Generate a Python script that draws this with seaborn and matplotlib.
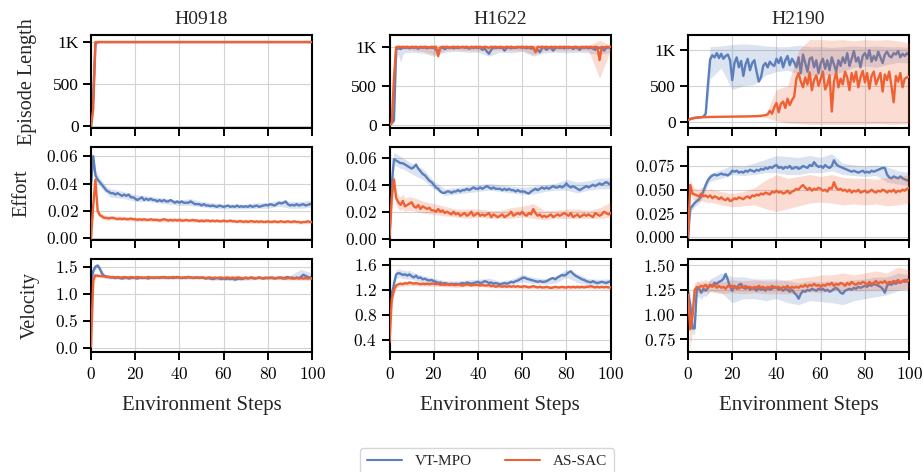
import matplotlib
matplotlib.use("Agg")
import matplotlib.pyplot as plt
import seaborn as sns
import pandas as pd
from matplotlib.lines import Line2D

# ---------------- data ----------------
ENVS = ["H0918", "H1622", "H2190"]
METRICS = ["Episode Length", "Effort", "Velocity"]
ALGOS = ["VT-MPO", "AS-SAC"]
STEPS = list(range(101))
BAND_STEPS = [0, 1, 2, 3, 4, 5, 6, 7, 8, 9, 10, 15, 20, 25, 30, 35, 40, 45, 50,
              55, 60, 65, 70, 75, 80, 85, 90, 95, 100]

# ---- H0918 ----
ep_h0918_vt = [0, 350, 985, 1000, 1000, 1000, 1000, 1000, 1000, 1000,
               1000, 1000, 1000, 1000, 1000, 1000, 1000, 1000, 1000, 1000,
               1000, 1000, 1000, 1000, 1000, 1000, 1000, 1000, 1000, 1000,
               1000, 1000, 1000, 1000, 1000, 1000, 1000, 1000, 1000, 1000,
               1000, 1000, 1000, 1000, 1000, 1000, 1000, 1000, 1000, 1000,
               1000, 1000, 1000, 1000, 1000, 1000, 1000, 1000, 1000, 1000,
               1000, 1000, 1000, 1000, 1000, 1000, 1000, 1000, 1000, 1000,
               1000, 1000, 1000, 1000, 1000, 1000, 1000, 1000, 1000, 1000,
               1000, 1000, 1000, 1000, 1000, 1000, 1000, 1000, 1000, 1000,
               1000, 1000, 1000, 1000, 1000, 1000, 1000, 1000, 1000, 1000,
               1000]
ep_h0918_vt_lo = [0, 200, 940, 990, 995, 995, 995, 995, 995, 995, 995,
                  995, 995, 995, 995, 995, 995, 995, 995, 995, 995, 995, 995, 995, 995, 995, 995, 995, 995]
ep_h0918_vt_hi = [30, 500, 1005, 1005, 1005, 1005, 1005, 1005, 1005, 1005, 1005,
                  1005, 1005, 1005, 1005, 1005, 1005, 1005, 1005, 1005, 1005, 1005, 1005, 1005, 1005, 1005, 1005, 1005, 1005]
ep_h0918_as = [0, 200, 1000, 1000, 1000, 1000, 1000, 1000, 1000, 1000,
               1000, 1000, 1000, 1000, 1000, 1000, 1000, 1000, 1000, 1000,
               1000, 1000, 1000, 1000, 1000, 1000, 1000, 1000, 1000, 1000,
               1000, 1000, 1000, 1000, 1000, 1000, 1000, 1000, 1000, 1000,
               1000, 1000, 1000, 1000, 1000, 1000, 1000, 1000, 1000, 1000,
               1000, 1000, 1000, 1000, 1000, 1000, 1000, 1000, 1000, 1000,
               1000, 1000, 1000, 1000, 1000, 1000, 1000, 1000, 1000, 1000,
               1000, 1000, 1000, 1000, 1000, 1000, 1000, 1000, 1000, 1000,
               1000, 1000, 1000, 1000, 1000, 1000, 1000, 1000, 1000, 1000,
               1000, 1000, 1000, 1000, 1000, 1000, 1000, 1000, 1000, 1000,
               1000]
ep_h0918_as_lo = [0, 100, 960, 990, 995, 995, 995, 995, 995, 995, 995,
                  995, 995, 995, 995, 995, 995, 995, 995, 995, 995, 995, 995, 995, 995, 995, 995, 995, 995]
ep_h0918_as_hi = [20, 350, 1025, 1010, 1005, 1005, 1005, 1005, 1005, 1005, 1005,
                  1005, 1005, 1005, 1005, 1005, 1005, 1005, 1005, 1005, 1005, 1005, 1005, 1005, 1005, 1005, 1005, 1005, 1005]

eff_h0918_vt = [0.040, 0.060, 0.046, 0.043, 0.041, 0.039, 0.037, 0.035, 0.034, 0.033,
                0.033, 0.032, 0.033, 0.032, 0.031, 0.032, 0.031, 0.032, 0.030, 0.030,
                0.029, 0.028, 0.029, 0.030, 0.028, 0.029, 0.028, 0.029, 0.028, 0.028,
                0.027, 0.028, 0.027, 0.028, 0.027, 0.027, 0.028, 0.027, 0.026, 0.027,
                0.026, 0.027, 0.026, 0.026, 0.026, 0.027, 0.026, 0.025, 0.025, 0.025,
                0.024, 0.025, 0.024, 0.024, 0.0235, 0.024, 0.0235, 0.023, 0.024, 0.0235,
                0.023, 0.0235, 0.024, 0.023, 0.0235, 0.023, 0.024, 0.023, 0.0235, 0.023,
                0.0235, 0.023, 0.024, 0.023, 0.0235, 0.024, 0.023, 0.0235, 0.024, 0.0245,
                0.024, 0.025, 0.0245, 0.024, 0.025, 0.026, 0.0255, 0.026, 0.027, 0.025,
                0.024, 0.0245, 0.024, 0.025, 0.024, 0.0245, 0.025, 0.024, 0.0245, 0.025,
                0.025]
eff_h0918_vt_lo = [0.030, 0.055, 0.042, 0.040, 0.038, 0.036, 0.034, 0.033, 0.031, 0.030, 0.030,
                   0.029, 0.027, 0.027, 0.026, 0.025, 0.024, 0.024, 0.023, 0.022, 0.0215, 0.0215,
                   0.0215, 0.022, 0.022, 0.0235, 0.022, 0.022, 0.023]
eff_h0918_vt_hi = [0.045, 0.063, 0.050, 0.047, 0.044, 0.042, 0.040, 0.038, 0.037, 0.036, 0.036,
                   0.034, 0.032, 0.031, 0.030, 0.029, 0.028, 0.029, 0.027, 0.026, 0.025, 0.025,
                   0.025, 0.026, 0.026, 0.028, 0.027, 0.027, 0.028]
eff_h0918_as = [0.000, 0.024, 0.043, 0.020, 0.017, 0.016, 0.015, 0.015, 0.0145, 0.015,
                0.015, 0.0145, 0.014, 0.0145, 0.014, 0.0145, 0.014, 0.014, 0.0145, 0.014,
                0.014, 0.0135, 0.014, 0.0135, 0.014, 0.0135, 0.0135, 0.014, 0.0135, 0.0135,
                0.0135, 0.013, 0.0135, 0.014, 0.0135, 0.013, 0.0135, 0.013, 0.0135, 0.013,
                0.0135, 0.013, 0.013, 0.0135, 0.013, 0.013, 0.0135, 0.013, 0.013, 0.0125,
                0.013, 0.0125, 0.013, 0.013, 0.0125, 0.013, 0.0125, 0.013, 0.0125, 0.0125,
                0.013, 0.0125, 0.0125, 0.013, 0.0125, 0.0125, 0.012, 0.0125, 0.0125, 0.012,
                0.0125, 0.012, 0.0125, 0.0125, 0.012, 0.0125, 0.012, 0.0125, 0.012, 0.012,
                0.0125, 0.012, 0.012, 0.0125, 0.012, 0.012, 0.0125, 0.012, 0.012, 0.0125,
                0.012, 0.012, 0.0125, 0.012, 0.012, 0.0115, 0.012, 0.012, 0.0125, 0.012,
                0.012]
eff_h0918_as_lo = [0.000, 0.018, 0.038, 0.017, 0.015, 0.014, 0.0135, 0.0135, 0.013, 0.0135, 0.0135,
                   0.013, 0.0125, 0.0125, 0.012, 0.012, 0.012, 0.012, 0.0115, 0.0115, 0.0115, 0.0115,
                   0.011, 0.011, 0.011, 0.011, 0.011, 0.0105, 0.011]
eff_h0918_as_hi = [0.002, 0.030, 0.047, 0.024, 0.019, 0.018, 0.017, 0.017, 0.0165, 0.0165, 0.0165,
                   0.016, 0.0155, 0.015, 0.015, 0.015, 0.015, 0.0145, 0.0145, 0.014, 0.014, 0.014,
                   0.014, 0.0135, 0.0135, 0.0135, 0.0135, 0.013, 0.013]

vel_h0918_vt = [1.20, 1.42, 1.50, 1.52, 1.46, 1.37, 1.33, 1.32, 1.31, 1.30,
                1.30, 1.29, 1.30, 1.29, 1.28, 1.29, 1.30, 1.28, 1.29, 1.30,
                1.29, 1.28, 1.30, 1.29, 1.30, 1.29, 1.28, 1.30, 1.29, 1.30,
                1.30, 1.29, 1.30, 1.31, 1.30, 1.29, 1.30, 1.29, 1.30, 1.31,
                1.30, 1.29, 1.30, 1.29, 1.31, 1.30, 1.29, 1.30, 1.30, 1.29,
                1.30, 1.29, 1.28, 1.29, 1.28, 1.27, 1.28, 1.29, 1.28, 1.27,
                1.28, 1.27, 1.28, 1.27, 1.28, 1.26, 1.27, 1.28, 1.27, 1.28,
                1.29, 1.28, 1.30, 1.29, 1.28, 1.29, 1.30, 1.29, 1.28, 1.29,
                1.29, 1.30, 1.29, 1.28, 1.29, 1.30, 1.29, 1.28, 1.30, 1.31,
                1.29, 1.30, 1.28, 1.30, 1.29, 1.31, 1.35, 1.33, 1.31, 1.30,
                1.31]
vel_h0918_vt_lo = [1.10, 1.35, 1.45, 1.47, 1.40, 1.32, 1.29, 1.28, 1.27, 1.27, 1.27,
                   1.26, 1.26, 1.27, 1.27, 1.27, 1.27, 1.27, 1.27, 1.25, 1.25, 1.24,
                   1.25, 1.26, 1.26, 1.26, 1.25, 1.25, 1.25]
vel_h0918_vt_hi = [1.30, 1.48, 1.55, 1.57, 1.52, 1.43, 1.37, 1.35, 1.34, 1.33, 1.33,
                   1.32, 1.32, 1.32, 1.33, 1.33, 1.33, 1.32, 1.32, 1.31, 1.31, 1.30,
                   1.31, 1.32, 1.32, 1.33, 1.34, 1.45, 1.38]
vel_h0918_as = [0.02, 1.25, 1.34, 1.33, 1.33, 1.32, 1.32, 1.31, 1.31, 1.31,
                1.31, 1.30, 1.31, 1.30, 1.30, 1.31, 1.30, 1.30, 1.31, 1.30,
                1.30, 1.31, 1.30, 1.30, 1.29, 1.30, 1.31, 1.30, 1.30, 1.29,
                1.30, 1.30, 1.31, 1.30, 1.29, 1.30, 1.30, 1.31, 1.30, 1.30,
                1.30, 1.29, 1.30, 1.30, 1.31, 1.30, 1.30, 1.29, 1.30, 1.30,
                1.30, 1.30, 1.29, 1.30, 1.30, 1.29, 1.30, 1.29, 1.30, 1.30,
                1.29, 1.30, 1.30, 1.29, 1.30, 1.29, 1.30, 1.30, 1.29, 1.29,
                1.30, 1.29, 1.29, 1.30, 1.29, 1.29, 1.30, 1.29, 1.29, 1.30,
                1.29, 1.29, 1.30, 1.29, 1.29, 1.29, 1.30, 1.29, 1.28, 1.29,
                1.29, 1.28, 1.29, 1.29, 1.28, 1.29, 1.28, 1.29, 1.28, 1.29,
                1.28]
vel_h0918_as_lo = [0.00, 1.10, 1.30, 1.30, 1.30, 1.30, 1.29, 1.29, 1.29, 1.29, 1.29,
                   1.28, 1.28, 1.28, 1.28, 1.28, 1.28, 1.28, 1.28, 1.28, 1.27, 1.27,
                   1.27, 1.27, 1.27, 1.27, 1.27, 1.26, 1.26]
vel_h0918_as_hi = [0.10, 1.35, 1.38, 1.36, 1.36, 1.35, 1.34, 1.34, 1.33, 1.33, 1.33,
                   1.33, 1.32, 1.32, 1.32, 1.32, 1.32, 1.32, 1.32, 1.32, 1.31, 1.31,
                   1.31, 1.31, 1.31, 1.31, 1.31, 1.30, 1.30]

# ---- H1622 ----
ep_h1622_vt = [10, 30, 60, 960, 985, 970, 990, 985, 990, 980,
               990, 985, 990, 975, 990, 985, 990, 980, 990, 985,
               990, 960, 930, 985, 990, 970, 990, 985, 990, 980,
               990, 985, 990, 995, 985, 990, 975, 990, 985, 990,
               985, 990, 960, 980, 940, 910, 960, 990, 985, 990,
               985, 990, 950, 985, 990, 980, 990, 985, 990, 995,
               985, 990, 980, 990, 975, 985, 940, 960, 930, 985,
               990, 960, 985, 990, 950, 985, 990, 985, 990, 980,
               990, 985, 995, 970, 990, 985, 960, 990, 985, 990,
               980, 990, 975, 960, 990, 985, 990, 950, 985, 990,
               990]
ep_h1622_vt_lo = [0, 10, 30, 850, 900, 800, 900, 930, 920, 930, 930,
                  920, 880, 930, 940, 930, 930, 880, 930, 920, 940, 880,
                  920, 930, 920, 930, 920, 900, 930]
ep_h1622_vt_hi = [20, 50, 100, 1000, 1005, 1005, 1005, 1005, 1005, 1005, 1005,
                  1005, 1005, 1005, 1005, 1005, 1005, 1005, 1005, 1005, 1005, 1005,
                  1005, 1005, 1005, 1005, 1005, 1005, 1005]
ep_h1622_as = [5, 30, 600, 995, 1000, 995, 1000, 995, 1000, 990,
               1000, 995, 1000, 990, 1000, 995, 1000, 995, 990, 1000,
               995, 1000, 880, 990, 1000, 995, 1000, 990, 995, 1000,
               995, 1000, 990, 1000, 995, 1000, 985, 1000, 995, 1000,
               995, 1000, 990, 1000, 995, 985, 1000, 995, 1000, 990,
               1000, 995, 990, 1000, 995, 1000, 990, 995, 1000, 995,
               1000, 995, 1000, 990, 1000, 995, 930, 1000, 995, 1000,
               995, 1000, 990, 1000, 995, 1000, 990, 1000, 995, 1000,
               995, 1000, 990, 995, 1000, 995, 990, 1000, 995, 1000,
               995, 1000, 990, 1000, 995, 830, 1000, 990, 1000, 995,
               1000]
ep_h1622_as_lo = [0, 10, 300, 960, 970, 970, 970, 970, 970, 960, 960,
                  940, 900, 950, 960, 950, 950, 950, 960, 950, 950, 900,
                  950, 950, 950, 950, 950, 600, 960]
ep_h1622_as_hi = [10, 60, 900, 1020, 1020, 1020, 1020, 1020, 1020, 1020, 1020,
                  1020, 1020, 1020, 1020, 1020, 1020, 1020, 1020, 1020, 1020, 1020,
                  1020, 1020, 1020, 1020, 1020, 1080, 1020]

eff_h1622_vt = [0.002, 0.040, 0.059, 0.058, 0.057, 0.056, 0.056, 0.055, 0.054, 0.053,
                0.052, 0.053, 0.055, 0.052, 0.050, 0.048, 0.047, 0.045, 0.043, 0.042,
                0.040, 0.038, 0.037, 0.035, 0.034, 0.034, 0.035, 0.035, 0.034, 0.035,
                0.035, 0.036, 0.035, 0.036, 0.036, 0.037, 0.036, 0.037, 0.038, 0.037,
                0.037, 0.038, 0.037, 0.038, 0.039, 0.038, 0.037, 0.038, 0.037, 0.037,
                0.037, 0.036, 0.037, 0.036, 0.037, 0.036, 0.036, 0.035, 0.036, 0.035,
                0.035, 0.035, 0.034, 0.0335, 0.035, 0.036, 0.037, 0.036, 0.037, 0.038,
                0.037, 0.038, 0.037, 0.038, 0.039, 0.038, 0.038, 0.039, 0.038, 0.039,
                0.041, 0.039, 0.038, 0.039, 0.038, 0.037, 0.036, 0.037, 0.038, 0.039,
                0.038, 0.039, 0.040, 0.039, 0.040, 0.041, 0.040, 0.041, 0.042, 0.041,
                0.040]
eff_h1622_vt_lo = [0.000, 0.035, 0.054, 0.054, 0.053, 0.052, 0.052, 0.051, 0.050, 0.049, 0.048,
                   0.044, 0.037, 0.032, 0.033, 0.034, 0.035, 0.036, 0.035, 0.034, 0.033, 0.033,
                   0.035, 0.036, 0.036, 0.034, 0.036, 0.037, 0.037]
eff_h1622_vt_hi = [0.004, 0.045, 0.064, 0.063, 0.062, 0.061, 0.060, 0.059, 0.058, 0.057, 0.056,
                   0.052, 0.043, 0.037, 0.038, 0.039, 0.040, 0.041, 0.040, 0.039, 0.038, 0.039,
                   0.040, 0.041, 0.044, 0.042, 0.043, 0.045, 0.045]
eff_h1622_as = [0.001, 0.030, 0.044, 0.030, 0.027, 0.025, 0.028, 0.024, 0.025, 0.026,
                0.027, 0.024, 0.023, 0.025, 0.022, 0.024, 0.023, 0.022, 0.023, 0.021,
                0.021, 0.020, 0.022, 0.020, 0.021, 0.019, 0.020, 0.019, 0.018, 0.020,
                0.018, 0.019, 0.017, 0.018, 0.019, 0.017, 0.018, 0.020, 0.017, 0.018,
                0.019, 0.017, 0.018, 0.017, 0.018, 0.019, 0.016, 0.018, 0.017, 0.016,
                0.017, 0.018, 0.016, 0.017, 0.018, 0.020, 0.017, 0.018, 0.019, 0.018,
                0.020, 0.018, 0.017, 0.019, 0.018, 0.022, 0.019, 0.017, 0.018, 0.016,
                0.017, 0.016, 0.017, 0.018, 0.016, 0.017, 0.018, 0.017, 0.018, 0.019,
                0.018, 0.017, 0.019, 0.016, 0.017, 0.018, 0.016, 0.017, 0.018, 0.017,
                0.018, 0.017, 0.016, 0.019, 0.018, 0.017, 0.018, 0.020, 0.019, 0.018,
                0.019]
eff_h1622_as_lo = [0.000, 0.020, 0.038, 0.025, 0.022, 0.021, 0.022, 0.020, 0.021, 0.021, 0.021,
                   0.019, 0.018, 0.017, 0.016, 0.015, 0.016, 0.015, 0.015, 0.015, 0.016, 0.015,
                   0.014, 0.015, 0.015, 0.015, 0.015, 0.015, 0.016]
eff_h1622_as_hi = [0.030, 0.040, 0.048, 0.036, 0.032, 0.031, 0.033, 0.030, 0.031, 0.031, 0.031,
                   0.028, 0.026, 0.024, 0.022, 0.022, 0.022, 0.021, 0.021, 0.023, 0.024, 0.026,
                   0.021, 0.021, 0.022, 0.022, 0.021, 0.023, 0.027]

vel_h1622_vt = [1.23, 1.08, 1.30, 1.45, 1.47, 1.46, 1.44, 1.45, 1.43, 1.45,
                1.42, 1.40, 1.43, 1.39, 1.40, 1.37, 1.38, 1.36, 1.35, 1.36,
                1.34, 1.33, 1.31, 1.32, 1.30, 1.31, 1.30, 1.29, 1.30, 1.29,
                1.30, 1.29, 1.30, 1.31, 1.30, 1.32, 1.31, 1.30, 1.31, 1.32,
                1.33, 1.31, 1.32, 1.34, 1.33, 1.31, 1.32, 1.30, 1.31, 1.30,
                1.29, 1.30, 1.31, 1.30, 1.31, 1.33, 1.32, 1.34, 1.35, 1.37,
                1.39, 1.40, 1.38, 1.37, 1.36, 1.35, 1.34, 1.33, 1.34, 1.33,
                1.33, 1.34, 1.36, 1.38, 1.39, 1.37, 1.40, 1.42, 1.44, 1.43,
                1.45, 1.48, 1.50, 1.46, 1.43, 1.41, 1.39, 1.37, 1.36, 1.34,
                1.33, 1.32, 1.34, 1.32, 1.31, 1.32, 1.33, 1.32, 1.31, 1.33,
                1.33]
vel_h1622_vt_lo = [1.15, 0.95, 1.20, 1.38, 1.40, 1.40, 1.38, 1.38, 1.37, 1.38, 1.37,
                   1.32, 1.29, 1.26, 1.26, 1.27, 1.28, 1.29, 1.26, 1.28, 1.33, 1.30,
                   1.29, 1.31, 1.40, 1.32, 1.28, 1.28, 1.29]
vel_h1622_vt_hi = [1.30, 1.20, 1.40, 1.52, 1.54, 1.53, 1.51, 1.52, 1.50, 1.52, 1.49,
                   1.43, 1.39, 1.35, 1.34, 1.36, 1.37, 1.39, 1.34, 1.37, 1.45, 1.40,
                   1.38, 1.42, 1.53, 1.46, 1.38, 1.37, 1.38]
vel_h1622_as = [0.36, 1.05, 1.20, 1.27, 1.29, 1.30, 1.29, 1.31, 1.30, 1.32,
                1.31, 1.30, 1.31, 1.30, 1.29, 1.30, 1.29, 1.30, 1.29, 1.30,
                1.30, 1.29, 1.30, 1.28, 1.29, 1.28, 1.29, 1.28, 1.29, 1.28,
                1.28, 1.29, 1.28, 1.27, 1.28, 1.29, 1.28, 1.27, 1.28, 1.28,
                1.28, 1.27, 1.28, 1.27, 1.27, 1.28, 1.26, 1.27, 1.25, 1.26,
                1.26, 1.25, 1.26, 1.25, 1.26, 1.25, 1.26, 1.25, 1.26, 1.25,
                1.25, 1.26, 1.25, 1.24, 1.25, 1.26, 1.25, 1.24, 1.25, 1.24,
                1.24, 1.25, 1.24, 1.23, 1.24, 1.25, 1.24, 1.24, 1.25, 1.24,
                1.24, 1.25, 1.24, 1.25, 1.24, 1.25, 1.24, 1.25, 1.24, 1.25,
                1.25, 1.26, 1.25, 1.24, 1.25, 1.24, 1.25, 1.24, 1.25, 1.24,
                1.24]
vel_h1622_as_lo = [0.25, 0.90, 1.12, 1.22, 1.25, 1.26, 1.26, 1.27, 1.26, 1.27, 1.27,
                   1.26, 1.26, 1.25, 1.24, 1.25, 1.25, 1.24, 1.23, 1.23, 1.22, 1.22,
                   1.21, 1.21, 1.21, 1.22, 1.22, 1.22, 1.21]
vel_h1622_as_hi = [0.45, 1.15, 1.27, 1.31, 1.32, 1.33, 1.33, 1.34, 1.33, 1.35, 1.34,
                   1.33, 1.33, 1.32, 1.31, 1.31, 1.31, 1.30, 1.28, 1.28, 1.28, 1.28,
                   1.27, 1.27, 1.27, 1.28, 1.28, 1.27, 1.27]

# ---- H2190 ----
ep_h2190_vt = [20, 35, 45, 50, 55, 58, 62, 70, 110, 520,
               870, 930, 900, 960, 890, 950, 880, 920, 940, 860,
               580, 820, 900, 760, 850, 640, 800, 880, 720, 820,
               860, 700, 560, 620, 780, 820, 760, 840, 800, 780,
               880, 820, 900, 760, 860, 920, 790, 880, 830, 760,
               900, 680, 940, 820, 700, 880, 900, 760, 860, 680,
               820, 880, 740, 860, 720, 900, 800, 700, 860, 780,
               900, 820, 960, 780, 880, 990, 840, 900, 760, 920,
               960, 880, 1000, 840, 920, 860, 980, 900, 820, 940,
               980, 920, 900, 960, 940, 990, 900, 950, 920, 960,
               930]
ep_h2190_vt_lo = [15, 25, 35, 40, 45, 50, 52, 58, 80, 300, 600,
                  750, 450, 500, 520, 650, 700, 720, 660, 640, 660, 650,
                  700, 760, 780, 760, 800, 830, 820]
ep_h2190_vt_hi = [25, 45, 55, 60, 65, 66, 72, 82, 160, 750, 1050,
                  1060, 1080, 1090, 1080, 1060, 1050, 1050, 1070, 1050, 1050, 1040,
                  1050, 1060, 1050, 1060, 1050, 1050, 1040]
ep_h2190_as = [20, 35, 45, 52, 56, 58, 60, 61, 62, 63,
               64, 65, 65, 66, 66, 67, 67, 68, 68, 68,
               69, 69, 70, 70, 71, 71, 72, 72, 73, 74,
               75, 76, 78, 80, 85, 90, 100, 150, 110, 200,
               260, 130, 250, 280, 190, 320, 230, 300, 350, 600,
               680, 560, 480, 620, 520, 690, 440, 580, 650, 500,
               600, 700, 450, 520, 650, 140, 560, 690, 480, 600,
               520, 700, 620, 440, 680, 560, 700, 480, 620, 710,
               550, 680, 460, 640, 700, 520, 600, 680, 420, 660,
               580, 700, 500, 270, 640, 560, 680, 480, 600, 620,
               630]
ep_h2190_as_lo = [15, 25, 35, 42, 46, 48, 50, 51, 52, 53, 54,
                  56, 58, 60, 62, 60, 10, -20, -30, -40, -40, -40,
                  -40, -40, -40, -30, -40, -40, -30]
ep_h2190_as_hi = [25, 45, 55, 62, 66, 68, 70, 71, 72, 73, 74,
                  76, 78, 80, 84, 100, 450, 500, 1000, 1150, 1150, 1140,
                  1150, 1130, 1150, 1140, 1150, 1130, 1100]

eff_h2190_vt = [0.000, 0.030, 0.033, 0.036, 0.038, 0.040, 0.043, 0.049, 0.055, 0.060,
                0.063, 0.065, 0.066, 0.065, 0.066, 0.067, 0.066, 0.066, 0.065, 0.067,
                0.070, 0.069, 0.070, 0.068, 0.069, 0.068, 0.070, 0.069, 0.071, 0.070,
                0.069, 0.071, 0.070, 0.072, 0.071, 0.073, 0.072, 0.074, 0.073, 0.075,
                0.076, 0.073, 0.074, 0.072, 0.074, 0.073, 0.075, 0.072, 0.073, 0.074,
                0.072, 0.073, 0.075, 0.074, 0.073, 0.076, 0.075, 0.079, 0.076, 0.074,
                0.075, 0.073, 0.076, 0.074, 0.073, 0.075, 0.081, 0.077, 0.075, 0.074,
                0.073, 0.072, 0.071, 0.070, 0.069, 0.070, 0.069, 0.068, 0.069, 0.070,
                0.068, 0.069, 0.068, 0.070, 0.069, 0.070, 0.071, 0.072, 0.073, 0.073,
                0.066, 0.063, 0.062, 0.064, 0.063, 0.062, 0.064, 0.062, 0.061, 0.060,
                0.060]
eff_h2190_vt_lo = [0.000, 0.026, 0.029, 0.032, 0.034, 0.036, 0.039, 0.044, 0.050, 0.055, 0.059,
                   0.062, 0.066, 0.065, 0.066, 0.068, 0.068, 0.066, 0.066, 0.068, 0.068, 0.070,
                   0.066, 0.065, 0.064, 0.065, 0.058, 0.056, 0.054]
eff_h2190_vt_hi = [0.004, 0.034, 0.037, 0.040, 0.042, 0.044, 0.047, 0.054, 0.060, 0.065, 0.067,
                   0.071, 0.076, 0.075, 0.078, 0.082, 0.086, 0.085, 0.084, 0.086, 0.084, 0.088,
                   0.078, 0.076, 0.075, 0.076, 0.074, 0.070, 0.068]
eff_h2190_as = [0.000, 0.055, 0.046, 0.045, 0.044, 0.043, 0.046, 0.043, 0.044, 0.042,
                0.044, 0.041, 0.043, 0.042, 0.040, 0.042, 0.040, 0.039, 0.041, 0.038,
                0.039, 0.041, 0.040, 0.042, 0.041, 0.040, 0.042, 0.043, 0.041, 0.044,
                0.043, 0.045, 0.044, 0.046, 0.045, 0.047, 0.046, 0.045, 0.048, 0.047,
                0.049, 0.047, 0.048, 0.046, 0.047, 0.049, 0.046, 0.048, 0.049, 0.051,
                0.050, 0.053, 0.055, 0.052, 0.050, 0.052, 0.049, 0.051, 0.050, 0.052,
                0.051, 0.049, 0.050, 0.048, 0.052, 0.051, 0.058, 0.052, 0.050, 0.051,
                0.049, 0.050, 0.048, 0.050, 0.047, 0.049, 0.048, 0.050, 0.047, 0.048,
                0.049, 0.047, 0.048, 0.050, 0.048, 0.047, 0.049, 0.048, 0.050, 0.049,
                0.047, 0.049, 0.048, 0.050, 0.047, 0.049, 0.048, 0.050, 0.049, 0.051,
                0.052]
eff_h2190_as_lo = [0.000, 0.048, 0.040, 0.039, 0.038, 0.037, 0.039, 0.037, 0.038, 0.036, 0.037,
                   0.034, 0.032, 0.033, 0.034, 0.030, 0.027, 0.030, 0.033, 0.036, 0.037, 0.036,
                   0.034, 0.035, 0.034, 0.035, 0.033, 0.034, 0.036]
eff_h2190_as_hi = [0.004, 0.062, 0.054, 0.052, 0.051, 0.050, 0.053, 0.050, 0.051, 0.049, 0.051,
                   0.048, 0.046, 0.048, 0.052, 0.060, 0.066, 0.062, 0.064, 0.066, 0.064, 0.066,
                   0.063, 0.062, 0.062, 0.061, 0.063, 0.064, 0.066]

vel_h2190_vt = [1.22, 1.10, 0.86, 0.86, 1.27, 1.26, 1.22, 1.26, 1.24, 1.27,
                1.30, 1.29, 1.32, 1.31, 1.33, 1.34, 1.36, 1.41, 1.35, 1.28,
                1.24, 1.29, 1.26, 1.30, 1.31, 1.27, 1.26, 1.28, 1.25, 1.27,
                1.26, 1.24, 1.27, 1.25, 1.26, 1.24, 1.27, 1.25, 1.26, 1.28,
                1.27, 1.25, 1.26, 1.24, 1.26, 1.25, 1.23, 1.25, 1.22, 1.20,
                1.16, 1.21, 1.24, 1.23, 1.25, 1.24, 1.26, 1.25, 1.24, 1.26,
                1.25, 1.26, 1.24, 1.25, 1.23, 1.24, 1.26, 1.27, 1.25, 1.22,
                1.21, 1.24, 1.25, 1.26, 1.25, 1.27, 1.26, 1.28, 1.27, 1.28,
                1.29, 1.28, 1.30, 1.29, 1.31, 1.30, 1.29, 1.28, 1.26, 1.22,
                1.29, 1.31, 1.30, 1.32, 1.31, 1.33, 1.32, 1.34, 1.33, 1.35,
                1.34]
vel_h2190_vt_lo = [1.15, 1.00, 0.80, 0.80, 1.18, 1.18, 1.15, 1.19, 1.18, 1.21, 1.24,
                   1.22, 1.12, 1.16, 1.16, 1.14, 1.16, 1.12, 1.10, 1.14, 1.13, 1.12,
                   1.10, 1.14, 1.16, 1.18, 1.20, 1.24, 1.26]
vel_h2190_vt_hi = [1.28, 1.22, 0.95, 0.95, 1.33, 1.33, 1.30, 1.33, 1.31, 1.33, 1.36,
                   1.42, 1.38, 1.38, 1.36, 1.36, 1.36, 1.34, 1.32, 1.34, 1.33, 1.34,
                   1.33, 1.35, 1.36, 1.38, 1.38, 1.42, 1.40]
vel_h2190_as = [1.20, 0.85, 0.98, 1.25, 1.28, 1.27, 1.29, 1.28, 1.30, 1.27,
                1.29, 1.28, 1.30, 1.27, 1.29, 1.27, 1.28, 1.26, 1.29, 1.28,
                1.29, 1.27, 1.28, 1.26, 1.28, 1.27, 1.29, 1.27, 1.28, 1.26,
                1.28, 1.27, 1.29, 1.27, 1.28, 1.26, 1.28, 1.27, 1.29, 1.27,
                1.27, 1.28, 1.26, 1.28, 1.27, 1.29, 1.26, 1.28, 1.27, 1.28,
                1.27, 1.29, 1.28, 1.30, 1.28, 1.30, 1.29, 1.31, 1.29, 1.30,
                1.28, 1.30, 1.29, 1.31, 1.30, 1.32, 1.29, 1.31, 1.30, 1.32,
                1.31, 1.29, 1.32, 1.30, 1.33, 1.31, 1.30, 1.32, 1.31, 1.33,
                1.32, 1.30, 1.33, 1.31, 1.32, 1.34, 1.31, 1.33, 1.32, 1.34,
                1.31, 1.33, 1.32, 1.34, 1.33, 1.35, 1.32, 1.34, 1.35, 1.33,
                1.35]
vel_h2190_as_lo = [1.10, 0.65, 0.85, 1.18, 1.22, 1.22, 1.23, 1.22, 1.24, 1.21, 1.23,
                   1.21, 1.22, 1.21, 1.22, 1.21, 1.21, 1.21, 1.21, 1.23, 1.22, 1.24,
                   1.24, 1.24, 1.24, 1.25, 1.24, 1.25, 1.26]
vel_h2190_as_hi = [1.30, 1.05, 1.10, 1.32, 1.34, 1.33, 1.35, 1.34, 1.36, 1.33, 1.35,
                   1.33, 1.35, 1.34, 1.35, 1.34, 1.34, 1.35, 1.37, 1.38, 1.40, 1.40,
                   1.42, 1.40, 1.42, 1.44, 1.42, 1.48, 1.45]

SERIES = {
    ("Episode Length", "H0918", "VT-MPO"): (ep_h0918_vt, ep_h0918_vt_lo, ep_h0918_vt_hi),
    ("Episode Length", "H0918", "AS-SAC"): (ep_h0918_as, ep_h0918_as_lo, ep_h0918_as_hi),
    ("Effort", "H0918", "VT-MPO"): (eff_h0918_vt, eff_h0918_vt_lo, eff_h0918_vt_hi),
    ("Effort", "H0918", "AS-SAC"): (eff_h0918_as, eff_h0918_as_lo, eff_h0918_as_hi),
    ("Velocity", "H0918", "VT-MPO"): (vel_h0918_vt, vel_h0918_vt_lo, vel_h0918_vt_hi),
    ("Velocity", "H0918", "AS-SAC"): (vel_h0918_as, vel_h0918_as_lo, vel_h0918_as_hi),
    ("Episode Length", "H1622", "VT-MPO"): (ep_h1622_vt, ep_h1622_vt_lo, ep_h1622_vt_hi),
    ("Episode Length", "H1622", "AS-SAC"): (ep_h1622_as, ep_h1622_as_lo, ep_h1622_as_hi),
    ("Effort", "H1622", "VT-MPO"): (eff_h1622_vt, eff_h1622_vt_lo, eff_h1622_vt_hi),
    ("Effort", "H1622", "AS-SAC"): (eff_h1622_as, eff_h1622_as_lo, eff_h1622_as_hi),
    ("Velocity", "H1622", "VT-MPO"): (vel_h1622_vt, vel_h1622_vt_lo, vel_h1622_vt_hi),
    ("Velocity", "H1622", "AS-SAC"): (vel_h1622_as, vel_h1622_as_lo, vel_h1622_as_hi),
    ("Episode Length", "H2190", "VT-MPO"): (ep_h2190_vt, ep_h2190_vt_lo, ep_h2190_vt_hi),
    ("Episode Length", "H2190", "AS-SAC"): (ep_h2190_as, ep_h2190_as_lo, ep_h2190_as_hi),
    ("Effort", "H2190", "VT-MPO"): (eff_h2190_vt, eff_h2190_vt_lo, eff_h2190_vt_hi),
    ("Effort", "H2190", "AS-SAC"): (eff_h2190_as, eff_h2190_as_lo, eff_h2190_as_hi),
    ("Velocity", "H2190", "VT-MPO"): (vel_h2190_vt, vel_h2190_vt_lo, vel_h2190_vt_hi),
    ("Velocity", "H2190", "AS-SAC"): (vel_h2190_as, vel_h2190_as_lo, vel_h2190_as_hi),
}

Y_LIMITS = {
    ("Episode Length", "H0918"): (-25, 1085),
    ("Episode Length", "H1622"): (-33, 1150),
    ("Episode Length", "H2190"): (-90, 1215),
    ("Effort", "H0918"): (-0.0012, 0.0667),
    ("Effort", "H1622"): (-0.001, 0.068),
    ("Effort", "H2190"): (-0.003, 0.095),
    ("Velocity", "H0918"): (-0.08, 1.64),
    ("Velocity", "H1622"): (0.2, 1.695),
    ("Velocity", "H2190"): (0.62, 1.56),
}
Y_TICKS = {
    ("Episode Length", "H0918"): [0, 500, 1000],
    ("Episode Length", "H1622"): [0, 500, 1000],
    ("Episode Length", "H2190"): [0, 500, 1000],
    ("Effort", "H0918"): [0.0, 0.02, 0.04, 0.06],
    ("Effort", "H1622"): [0.0, 0.02, 0.04, 0.06],
    ("Effort", "H2190"): [0.0, 0.025, 0.05, 0.075],
    ("Velocity", "H0918"): [0.0, 0.5, 1.0, 1.5],
    ("Velocity", "H1622"): [0.4, 0.8, 1.2, 1.6],
    ("Velocity", "H2190"): [0.75, 1.0, 1.25, 1.5],
}
Y_DECIMALS = {
    ("Effort", "H0918"): 2, ("Effort", "H1622"): 2, ("Effort", "H2190"): 3,
    ("Velocity", "H0918"): 1, ("Velocity", "H1622"): 1, ("Velocity", "H2190"): 2,
}
EP_TICK_LABELS = ["0", "500", "1K"]
X_TICKS = [0, 20, 40, 60, 80, 100]

COLORS = {"VT-MPO": "#5b7fbd", "AS-SAC": "#ee6133"}
Z = {"VT-MPO": (1, 2), "AS-SAC": (3, 4)}

# ---------------- tidy frame ----------------
rows = []
for (metric, env, algo), (mean, lo, hi) in SERIES.items():
    assert len(mean) == len(STEPS), (metric, env, algo, len(mean))
    assert len(lo) == len(BAND_STEPS) and len(hi) == len(BAND_STEPS), (metric, env, algo)
    for s, v in zip(STEPS, mean):
        rows.append({"metric": metric, "env": env, "algo": algo, "step": s, "value": v})
df = pd.DataFrame(rows)

# ---------------- style ----------------
sns.set_theme(style="whitegrid")
plt.rcParams.update({
    "font.family": ["Liberation Serif", "DejaVu Serif"],
    "mathtext.fontset": "cm",
    "axes.edgecolor": "black",
    "axes.linewidth": 1.5,
    "axes.facecolor": "white",
    "xtick.bottom": True,
    "ytick.left": True,
    "xtick.direction": "out",
    "ytick.direction": "out",
    "xtick.major.size": 6,
    "ytick.major.size": 6,
    "xtick.major.width": 1.4,
    "ytick.major.width": 1.4,
    "xtick.color": "black",
    "ytick.color": "black",
    "grid.color": "#d3d3d3",
    "grid.linewidth": 0.8,
})

fig, axes = plt.subplots(3, 3, figsize=(9.23, 4.72), dpi=100, sharex=True)
fig.subplots_adjust(left=0.0986, right=0.985, top=0.926, bottom=0.254,
                    wspace=0.35, hspace=0.205)

TICK_FS = 12.5
for i, metric in enumerate(METRICS):
    for j, env in enumerate(ENVS):
        ax = axes[i, j]
        for algo in ALGOS:
            mean, lo, hi = SERIES[(metric, env, algo)]
            zb, zl = Z[algo]
            ax.fill_between(BAND_STEPS, lo, hi, color=COLORS[algo], alpha=0.22,
                            linewidth=0, zorder=zb)
            sub = df[(df.metric == metric) & (df.env == env) & (df.algo == algo)]
            sns.lineplot(data=sub, x="step", y="value", ax=ax, color=COLORS[algo],
                         linewidth=1.7, errorbar=None, legend=False, zorder=zl)
        ax.set_xlim(0, 100)
        ax.set_ylim(*Y_LIMITS[(metric, env)])
        ticks = Y_TICKS[(metric, env)]
        if metric == "Episode Length":
            ax.set_yticks(ticks, labels=EP_TICK_LABELS)
        else:
            d = Y_DECIMALS[(metric, env)]
            ax.set_yticks(ticks, labels=[f"${t:.{d}f}$" for t in ticks])
        ax.set_xticks(X_TICKS, labels=[f"${t}$" for t in X_TICKS])
        ax.tick_params(axis="both", labelsize=TICK_FS, pad=3)
        ax.tick_params(axis="x", pad=5)
        ax.set_xlabel("")
        ax.set_ylabel("")
        ax.grid(True, which="major")
        for sp in ax.spines.values():
            sp.set_visible(True)
            sp.set_color("black")
            sp.set_linewidth(1.5)
        if i == 0:
            ax.set_title(env, fontsize=14, pad=8)
        if j == 0:
            ax.set_ylabel(metric, fontsize=14.5, labelpad=11)
        if i == 2:
            ax.set_xlabel("Environment Steps", fontsize=15, labelpad=9)
        else:
            ax.tick_params(axis="x", labelbottom=False)

handles = [Line2D([0], [0], color=COLORS[a], linewidth=1.5) for a in ALGOS]
fig.legend(handles, ALGOS, loc="upper center", bbox_to_anchor=(0.5276, 0.068),
           ncol=2, frameon=True, fancybox=True, edgecolor="#cccccc",
           fontsize=11, handlelength=2.3, columnspacing=2.2, borderpad=0.45)

fig.savefig("out.png", dpi=100)
